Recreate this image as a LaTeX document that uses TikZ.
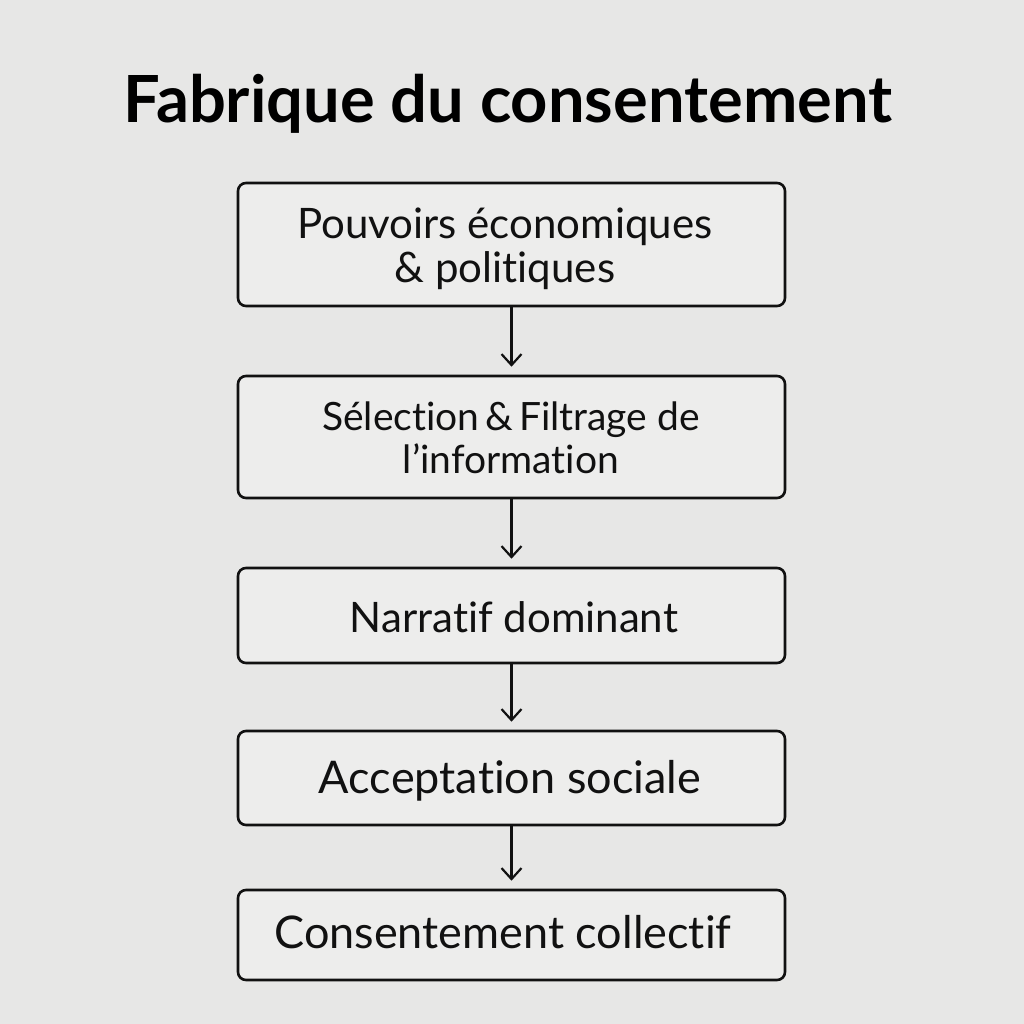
\documentclass[tikz,border=0pt]{standalone}
\usepackage{fontspec}
\setmainfont[Ligatures={NoCommon}]{Lato}
\usetikzlibrary{arrows.meta}
\definecolor{bg}{HTML}{E7E7E6}
\definecolor{boxfill}{HTML}{EDEDEC}
\definecolor{ink}{HTML}{111111}
\begin{document}
\begin{tikzpicture}[x=1pt,y=-1pt,
  stepbox/.style={draw=ink, line width=2.6pt, rounded corners=8pt, fill=boxfill,
    minimum width=547pt, inner sep=0pt},
  steptext/.style={anchor=base, align=center, text=ink, inner sep=0pt},
  flow/.style={draw=ink, line width=2.2pt, -{Straight Barb[length=11pt,width=20pt,line width=2.2pt]}, shorten >=8pt}]
\fill[bg] (0,0) rectangle (1024,1024);
\useasboundingbox (0,0) rectangle (1024,1024);
\node[anchor=base, inner sep=0pt, font=\fontsize{65}{70}\selectfont\bfseries, text=black] (title) at (508,123) {Fabrique du consentement};
\node[stepbox, minimum height=123pt] (b1) at (511.5,244.5) {};
\node[stepbox, minimum height=122pt] (b2) at (511.5,437) {};
\node[stepbox, minimum height=95pt] (b3) at (511.5,615.5) {};
\node[stepbox, minimum height=94pt] (b4) at (511.5,778) {};
\node[stepbox, minimum height=90pt] (b5) at (511.5,935) {};
\node[steptext, font=\fontsize{42}{44}\selectfont] (t1) at (505,282) {Pouvoirs économiques\\\& politiques};
\node[steptext, font=\fontsize{39}{43}\selectfont] (t2) at (511,473) {Sélection\hspace{0.15em}\&\hspace{0.15em}Filtrage de\\l’information};
\node[steptext, font=\fontsize{42}{44}\selectfont] (t3) at (514,632) {Narratif dominant};
\node[steptext, font=\fontsize{45}{48}\selectfont] (t4) at (510,793) {Acceptation sociale};
\node[steptext, font=\fontsize{45}{48}\selectfont] (t5) at (503,948) {Consentement collectif};
\draw[flow] (b1) -- (b2);
\draw[flow] (b2) -- (b3);
\draw[flow] (b3) -- (b4);
\draw[flow] (b4) -- (b5);
\end{tikzpicture}
\end{document}
